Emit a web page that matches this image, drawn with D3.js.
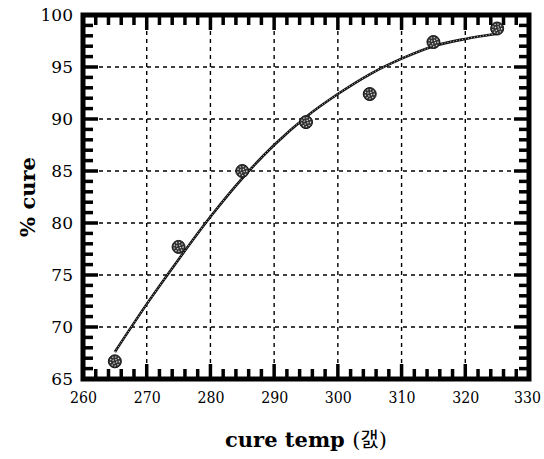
<!DOCTYPE html>
<meta charset="utf-8">
<style>
body { margin: 0; background: #fff; }
</style>
<body>
<script src="https://d3js.org/d3.v7.min.js"></script>
<script>
// measured points
var temps = [265, 275, 285, 295, 305, 315, 325];
var cure = [66.7, 77.7, 85.0, 89.7, 92.4, 97.4, 98.7];

// fitted curve
var fitTemps = [265, 270, 275, 280, 285, 290, 295, 300, 305, 310, 315, 320, 325];
var fitCure = [67.6, 72.2, 76.5, 80.6, 84.3, 87.5, 90.2, 92.4, 94.3, 95.8, 97.0, 97.7, 98.2];

var xTicks = [260, 270, 280, 290, 300, 310, 320, 330];
var yTicks = [65, 70, 75, 80, 85, 90, 95, 100];

var SERIF = "DejaVu Serif";

var margin = {top: 15, left: 83},
    W = 544, H = 459,
    width = 529 - margin.left,
    height = 379 - margin.top;

var svg = d3.select("body").append("svg")
    .attr("width", W).attr("height", H);

var g = svg.append("g").attr("transform", "translate(" + margin.left + "," + margin.top + ")");

var x = d3.scaleLinear().domain([260, 330]).range([0, width]);
var y = d3.scaleLinear().domain([65, 100]).range([height, 0]);

// dashed grid at the major ticks
g.append("g").selectAll("line").data(xTicks.slice(1, -1)).enter().append("line")
    .attr("x1", d => x(d)).attr("x2", d => x(d)).attr("y1", 0).attr("y2", height)
    .attr("stroke", "#000").attr("stroke-width", 1.4).attr("stroke-dasharray", "4,4");
g.append("g").selectAll("line").data(yTicks.slice(1, -1)).enter().append("line")
    .attr("y1", d => y(d)).attr("y2", d => y(d)).attr("x1", 0).attr("x2", width)
    .attr("stroke", "#000").attr("stroke-width", 1.4).attr("stroke-dasharray", "4,4");

// inward ticks on all four sides
var xMinor = d3.range(262, 330, 2).filter(d => d % 10 !== 0);
var yMinor = d3.range(66, 100, 1).filter(d => d % 5 !== 0);
var tk = g.append("g").attr("stroke", "#000").attr("stroke-width", 3.5);

function xt(vals, len) {
  tk.selectAll(null).data(vals).enter().append("line")
    .attr("x1", d => x(d)).attr("x2", d => x(d)).attr("y1", height).attr("y2", height - len);
  tk.selectAll(null).data(vals).enter().append("line")
    .attr("x1", d => x(d)).attr("x2", d => x(d)).attr("y1", 0).attr("y2", len);
}
function yt(vals, len) {
  tk.selectAll(null).data(vals).enter().append("line")
    .attr("y1", d => y(d)).attr("y2", d => y(d)).attr("x1", 0).attr("x2", len);
  tk.selectAll(null).data(vals).enter().append("line")
    .attr("y1", d => y(d)).attr("y2", d => y(d)).attr("x1", width).attr("x2", width - len);
}
xt(xMinor, 10); yt(yMinor, 10);
xt(xTicks, 15); yt(yTicks, 15);

// tick labels
var xl = g.append("g").attr("transform", "translate(0," + height + ")")
  .call(d3.axisBottom(x).tickValues(xTicks).tickSize(0).tickPadding(12));
var yl = g.append("g")
  .call(d3.axisLeft(y).tickValues(yTicks).tickSize(0).tickPadding(10));
[xl, yl].forEach(function(a) {
  a.select(".domain").remove();
  a.attr("font-family", SERIF).attr("font-size", 17);
});
xl.selectAll("text").attr("textLength", 27).attr("lengthAdjust", "spacingAndGlyphs");
xl.selectAll("text").filter(d => d === 330).attr("dx", -2);

g.append("rect").attr("width", width).attr("height", height)
    .attr("fill", "none").attr("stroke", "#000").attr("stroke-width", 5);

// fitted curve
var line = d3.line().x(d => x(d[0])).y(d => y(d[1])).curve(d3.curveMonotoneX);
var fitData = fitTemps.map((t, i) => [t, fitCure[i]]);
g.append("path").datum(fitData).attr("d", line)
    .attr("fill", "none").attr("stroke", "#111").attr("stroke-width", 2.6);
g.append("path").datum(fitData).attr("d", line)
    .attr("fill", "none").attr("stroke", "#fff").attr("stroke-width", 0.8).attr("stroke-dasharray", "1,2");

// points: dark disc with a light dotted overlay
var dots = g.selectAll(".dot").data(temps).enter().append("g")
    .attr("transform", (d, i) => "translate(" + x(d) + "," + y(cure[i]) + ")");
dots.append("circle").attr("r", 6.5).attr("fill", "#333").attr("stroke", "#111").attr("stroke-width", 1);
dots.append("circle").attr("r", 4.5).attr("fill", "none").attr("stroke", "#ddd")
    .attr("stroke-width", 1.2).attr("stroke-dasharray", "1.2,1.8");
dots.append("circle").attr("r", 2).attr("fill", "none").attr("stroke", "#ddd")
    .attr("stroke-width", 1.2).attr("stroke-dasharray", "1.2,1.8");

// axis titles
svg.append("text")
    .attr("transform", "translate(35," + (margin.top + height / 2) + ") rotate(-90)")
    .attr("text-anchor", "middle")
    .attr("font-family", SERIF).attr("font-weight", "bold").attr("font-size", 21)
    .text("% cure");

var xtt = svg.append("text")
    .attr("x", margin.left + width / 2).attr("y", 447)
    .attr("text-anchor", "middle")
    .attr("font-family", SERIF).attr("font-weight", "bold").attr("font-size", 21);
xtt.append("tspan").text("cure temp ");
xtt.append("tspan").attr("font-weight", "normal").text("(");
xtt.append("tspan").attr("font-family", "Noto Sans CJK KR").attr("font-weight", "normal").attr("font-size", 20).text("갨");
xtt.append("tspan").attr("font-weight", "normal").text(")");
</script>
</body>
